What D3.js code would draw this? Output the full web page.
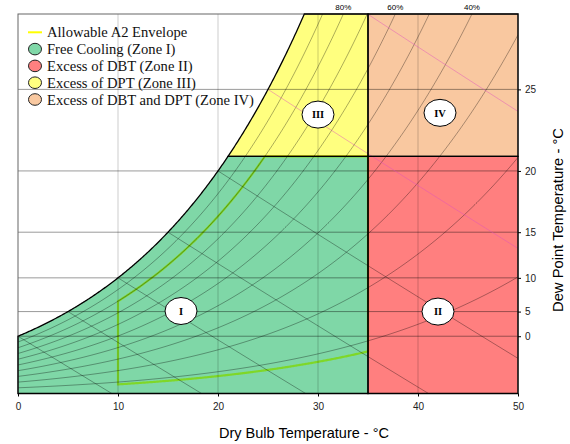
<!DOCTYPE html>
<html>
<head>
<meta charset="utf-8">
<script src="https://cdn.jsdelivr.net/npm/d3@7"></script>
<style>
  body { margin: 0; background: #fff; }
  .chart { width: 570px; height: 444px; }
  .tick text { font-family: Arial, "Liberation Sans", sans-serif; font-size: 10px; fill: #222; }
  .legend text { font-family: "Times New Roman", "Liberation Serif", serif; font-size: 14.6px; fill: #111; }
</style>
</head>
<body>
<div class="chart"></div>
<script>
//chart values
const dbtTicks = [0, 10, 20, 30, 40, 50];
const dewPointTicks = [0, 5, 10, 15, 20, 25];
const rhLevels = [0.1, 0.2, 0.3, 0.4, 0.5, 0.6, 0.7, 0.8, 0.9];
const rhLabelLevels = [0.8, 0.6, 0.4];
const wetBulbLevels = [0, 5, 10, 15, 20, 25, 30];
const pinkWetBulbLevels = [25, 30];

//zone limits and the A2 envelope
const dbtLimit = 35;
const dptLimit = 21;
const a2Dbt = [10, 35];
const a2Rh = [0.08, 0.8];
const a2DptMax = 21;

//zone labels
const zoneNames = ["I", "II", "III", "IV"];
const zoneLabelDbt = [16.3, 42, 30, 42.2];
const zoneLabelDpt = [5.1, 5, 23.6, 23.7];

//legend
const legendLabels = ["Allowable A2 Envelope", "Free Cooling (Zone I)", "Excess of DBT (Zone II)",
  "Excess of DPT (Zone III)", "Excess of DBT and DPT (Zone IV)"];
const zoneColors = ["#00b050", "#ff0000", "#ffff00", "#f39242"];

//A global object to hold all of our logic.
let chart = {};

//psychrometric helpers, pressure in kPa
const P = 101.325;
function pws(t) { return 0.61094 * Math.exp(17.625 * t / (t + 243.04)); }
function humRatio(t, rh) { let p = rh * pws(t); return 0.622 * p / (P - p); }
function dpToW(dp) { return humRatio(dp, 1); }
function satTemp(w) {
  let a = Math.log(P * w / (0.622 + w) / 0.61094);
  return 243.04 * a / (17.625 - a);
}
function rhTemp(w, rh) {
  let a = Math.log(P * w / (0.622 + w) / rh / 0.61094);
  return 243.04 * a / (17.625 - a);
}
function wetBulbW(t, twb) {
  let ws = humRatio(twb, 1);
  return ((2501 - 2.326 * twb) * ws - 1.006 * (t - twb)) / (2501 + 1.86 * t - 4.186 * twb);
}

init();

function init() {
  setDimensions();
  setScales();
  appendElements();
}

function setDimensions() {
  chart.margin = { top: 14, right: 52, bottom: 50.5, left: 18 };
  chart.width = 570 - chart.margin.left - chart.margin.right;
  chart.height = 444 - chart.margin.top - chart.margin.bottom;
}

function setScales() {
  chart.x = d3.scaleLinear().domain([0, 50]).range([0, chart.width]);
  chart.y = d3.scaleLinear().domain([0, 0.025]).range([chart.height, 0]);
  chart.line = d3.line().x(d => chart.x(d[0])).y(d => chart.y(d[1]));
  chart.wTop = 0.025;
  chart.w21 = dpToW(dptLimit);
}

function curve(fn, t0, t1) {
  return d3.range(t0, t1, 0.1).concat([t1]).map(t => [t, fn(t)]);
}

function appendElements() {
  chart.svg = d3.select(".chart").append("svg")
    .attr("width", 570).attr("height", 444);

  chart.svg.append("defs").append("clipPath").attr("id", "plot-clip")
    .append("rect").attr("width", chart.width).attr("height", chart.height);

  chart.plot = chart.svg.append("g")
    .attr("transform", `translate(${chart.margin.left},${chart.margin.top})`);

  let inner = chart.plot.append("g").attr("clip-path", "url(#plot-clip)");

  //A2 envelope goes under the zone fills
  let tSat0 = satTemp(0.025);
  let tEnv = rhTemp(chart.w21, a2Rh[1]);
  let env = [[a2Dbt[0], humRatio(a2Dbt[0], a2Rh[0])]]
    .concat(curve(t => humRatio(t, a2Rh[1]), a2Dbt[0], tEnv))
    .concat([[a2Dbt[1], dpToW(a2DptMax)]])
    .concat(curve(t => humRatio(t, a2Rh[0]), a2Dbt[0], a2Dbt[1]).reverse());
  inner.append("path").attr("d", chart.line(env) + "Z")
    .attr("fill", "none").attr("stroke", "#ffff00").attr("stroke-width", 2.2);

  //zones
  let zoneI = [[0, 0]].concat(curve(t => humRatio(t, 1), 0, dptLimit))
    .concat([[dbtLimit, chart.w21], [dbtLimit, 0]]);
  let zoneII = [[dbtLimit, 0], [dbtLimit, chart.w21], [50, chart.w21], [50, 0]];
  let zoneIII = curve(t => humRatio(t, 1), dptLimit, tSat0)
    .concat([[dbtLimit, chart.wTop], [dbtLimit, chart.w21]]);
  let zoneIV = [[dbtLimit, chart.w21], [dbtLimit, chart.wTop], [50, chart.wTop], [50, chart.w21]];
  let zones = [zoneI, zoneII, zoneIII, zoneIV];

  inner.selectAll("path.zone").data(zones).enter()
    .append("path").attr("class", "zone")
    .attr("d", d => chart.line(d) + "Z")
    .attr("fill", (d, i) => zoneColors[i])
    .attr("fill-opacity", 0.5);

  //grid lines
  inner.selectAll("line.vgrid").data(dbtTicks.slice(1, -1)).enter()
    .append("line").attr("class", "vgrid")
    .attr("x1", d => chart.x(d)).attr("x2", d => chart.x(d))
    .attr("y1", 0).attr("y2", chart.height)
    .attr("stroke", "rgba(0,0,0,0.2)").attr("stroke-width", 1);
  inner.selectAll("line.hgrid").data(dewPointTicks).enter()
    .append("line").attr("class", "hgrid")
    .attr("x1", 0).attr("x2", chart.width)
    .attr("y1", d => chart.y(dpToW(d))).attr("y2", d => chart.y(dpToW(d)))
    .attr("stroke", "rgba(0,0,0,0.4)").attr("stroke-width", 1);

  //RH curves
  inner.selectAll("path.rh").data(rhLevels).enter()
    .append("path").attr("class", "rh")
    .attr("d", rh => chart.line(curve(t => humRatio(t, rh), 0, 50)))
    .attr("fill", "none").attr("stroke", "rgba(0,0,0,0.33)").attr("stroke-width", 1);

  //wet bulb lines
  inner.selectAll("path.wb").data(wetBulbLevels).enter()
    .append("path").attr("class", "wb")
    .attr("d", twb => chart.line(curve(t => wetBulbW(t, twb), twb, 50)))
    .attr("fill", "none")
    .attr("stroke", twb => pinkWetBulbLevels.includes(twb) ? "rgba(225,80,190,0.45)" : "rgba(0,0,0,0.33)")
    .attr("stroke-width", 1);

  //plot frame
  chart.plot.append("rect").attr("width", chart.width).attr("height", chart.height)
    .attr("fill", "none").attr("stroke", "#666").attr("stroke-width", 1);

  //zone outlines
  chart.plot.selectAll("path.outline").data(zones).enter()
    .append("path").attr("class", "outline")
    .attr("d", d => chart.line(d) + "Z")
    .attr("fill", "none").attr("stroke", "#000").attr("stroke-width", 1.3);

  //RH labels on top
  chart.plot.selectAll("text.rhlab").data(rhLabelLevels).enter()
    .append("text").attr("class", "rhlab")
    .attr("x", rh => chart.x(rhTemp(0.025, rh)))
    .attr("y", -4)
    .attr("text-anchor", "middle")
    .style("font-family", "Arial, 'Liberation Sans', sans-serif")
    .style("font-size", "8px")
    .text(rh => Math.round(rh * 100) + "%");

  //zone labels
  let zl = chart.plot.selectAll("g.zlab").data(zoneNames).enter()
    .append("g").attr("class", "zlab")
    .attr("transform", (d, i) => `translate(${chart.x(zoneLabelDbt[i])},${chart.y(dpToW(zoneLabelDpt[i]))})`);
  zl.append("ellipse").attr("rx", 16).attr("ry", 13.5)
    .attr("fill", "#fff").attr("stroke", "#000").attr("stroke-width", 1);
  zl.append("text").attr("text-anchor", "middle").attr("dy", "0.35em")
    .style("font-family", "'Times New Roman', 'Liberation Serif', serif")
    .style("font-weight", "bold").style("font-size", "10.5px")
    .text(d => d);

  //axes
  chart.plot.append("g")
    .attr("transform", `translate(0,${chart.height})`)
    .call(d3.axisBottom(chart.x).tickValues(dbtTicks).tickSize(3).tickPadding(6))
    .call(g => g.select(".domain").remove());
  chart.plot.append("g")
    .attr("transform", `translate(${chart.width},0)`)
    .call(d3.axisRight(chart.y).tickValues(dewPointTicks.map(dpToW))
      .tickFormat((d, i) => dewPointTicks[i]).tickSize(3).tickPadding(4))
    .call(g => g.select(".domain").remove());

  chart.svg.append("text")
    .attr("x", 304).attr("y", 438)
    .attr("text-anchor", "middle")
    .style("font-family", "Arial, 'Liberation Sans', sans-serif").style("font-size", "14.5px")
    .text("Dry Bulb Temperature - °C");
  chart.svg.append("text")
    .attr("transform", "translate(563,220) rotate(-90)")
    .attr("text-anchor", "middle")
    .style("font-family", "Arial, 'Liberation Sans', sans-serif").style("font-size", "14.8px")
    .text("Dew Point Temperature - °C");

  //legend
  let legend = chart.svg.append("g").attr("class", "legend");
  let rows = legend.selectAll("g").data(legendLabels).enter()
    .append("g").attr("transform", (d, i) => `translate(35,${32.3 + i * 16.8})`);
  rows.filter((d, i) => i === 0).append("line")
    .attr("x1", -7).attr("x2", 7).attr("stroke", "#ffff00").attr("stroke-width", 2);
  rows.filter((d, i) => i > 0).append("ellipse")
    .attr("rx", 6.5).attr("ry", 5.8)
    .attr("fill", (d, i) => d3.interpolateRgb("#fff", zoneColors[i])(0.5))
    .attr("stroke", "#222").attr("stroke-width", 1);
  rows.append("text").attr("x", 12).attr("dy", "0.35em").text(d => d);
}
</script>
</body>
</html>
